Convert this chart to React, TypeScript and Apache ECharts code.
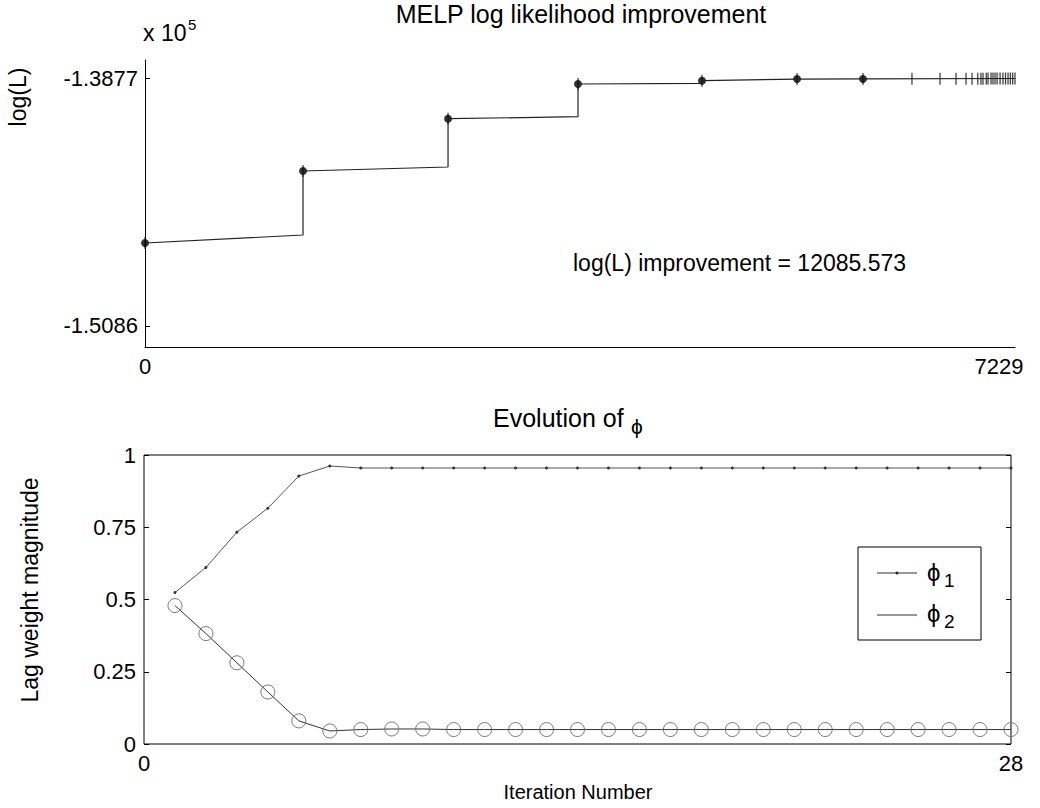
import React, { useEffect, useRef } from "react";
import * as echarts from "echarts";

// ---- Top plot data (log likelihood vs. evaluation count) ----
const topXMax = 7229;
const topXLabels = ["0", "7229"];
const topYTicks = [-150860, -138770];
const stepX = [0, 1313, 2518, 3598, 4628, 5418, 5966];
const stepStartLogL = [-146814, -143304, -140754, -139062, -138902, -138819, -138816];
const stepEndLogL = [-146424, -143109, -140657, -139030, -138825, -138817];
const finalLogL = -138794;
const plusX = [6373, 6606, 6739, 6822, 6872, 6920, 6946, 6963, 6990, 7005, 7030, 7046, 7063, 7080, 7105, 7129, 7150, 7171, 7190, 7210, 7229];
const plusLogL = [-138810, -138808, -138806, -138805, -138804, -138803, -138802, -138802, -138801, -138800, -138799, -138799, -138798, -138798, -138797, -138796, -138796, -138795, -138795, -138794, -138794];

// ---- Bottom plot data (lag weights per iteration) ----
const iterations = [1, 2, 3, 4, 5, 6, 7, 8, 9, 10, 11, 12, 13, 14, 15, 16, 17, 18, 19, 20, 21, 22, 23, 24, 25, 26, 27, 28];
const phi1 = [0.524, 0.611, 0.733, 0.816, 0.927, 0.962, 0.955, 0.955, 0.955, 0.955, 0.955, 0.955, 0.955, 0.955, 0.955, 0.955, 0.955, 0.955, 0.955, 0.955, 0.955, 0.955, 0.955, 0.955, 0.955, 0.955, 0.955, 0.955];
const phi2 = [0.479, 0.382, 0.281, 0.18, 0.08, 0.045, 0.05, 0.052, 0.052, 0.05, 0.05, 0.05, 0.05, 0.05, 0.05, 0.05, 0.05, 0.05, 0.05, 0.05, 0.05, 0.05, 0.05, 0.05, 0.05, 0.05, 0.05, 0.05];

const FONT = "'Liberation Sans', Arial, sans-serif";
const TICK = 22;
const LAB = 23;
const TITLE = 25;

function buildOption() {
  const linePts: number[][] = [];
  for (let i = 0; i < stepX.length; i++) {
    linePts.push([stepX[i], stepStartLogL[i]]);
    if (i < stepX.length - 1) linePts.push([stepX[i + 1], stepEndLogL[i]]);
  }
  linePts.push([topXMax, finalLogL]);
  const dots = stepX.map((x, i) => [x, stepStartLogL[i]]);
  const plus = dots.concat(plusX.map((x, i) => [x, plusLogL[i]]));

  const txt = (text: string, x: number, y: number, size = LAB, extra: any = {}) => ({
    type: "text",
    x,
    y,
    ...extra,
    style: {
      text,
      fontFamily: FONT,
      fontSize: size,
      fill: "#000",
      align: extra.align || "center",
      verticalAlign: "middle",
    },
  });

  return {
    animation: false,
    backgroundColor: "#fff",
    grid: [
      { left: 145, top: 60, width: 870, height: 287, show: false },
      { left: 144, top: 455, width: 867, height: 289, show: true, borderColor: "#000", borderWidth: 1, backgroundColor: "transparent" },
    ],
    xAxis: [
      {
        type: "value", gridIndex: 0, min: 0, max: topXMax,
        axisLine: { show: true, onZero: false, lineStyle: { color: "#000", width: 1 } },
        axisTick: { show: false },
        splitLine: { show: false },
        axisLabel: { customValues: [0], formatter: () => topXLabels[0], color: "#000", fontSize: TICK, fontFamily: FONT, margin: 8 },
      },
      {
        type: "value", gridIndex: 1, min: 0, max: 28,
        axisLine: { show: false },
        axisTick: { show: false },
        splitLine: { show: false },
        axisLabel: { customValues: [0, 28], color: "#000", fontSize: TICK, fontFamily: FONT, margin: 8 },
      },
    ],
    yAxis: [
      {
        type: "value", gridIndex: 0, min: -151884, max: -137892,
        axisLine: { show: true, onZero: false, lineStyle: { color: "#000", width: 1 } },
        axisTick: { show: true, inside: true, length: 5, customValues: topYTicks, lineStyle: { color: "#000" } },
        splitLine: { show: false },
        axisLabel: { customValues: topYTicks, formatter: (v: number) => (v / 1e5).toFixed(4), color: "#000", fontSize: TICK, fontFamily: FONT, margin: 7 },
      },
      {
        type: "value", gridIndex: 1, min: 0, max: 1, interval: 0.25,
        axisLine: { show: false },
        axisTick: { show: true, inside: true, length: 5, lineStyle: { color: "#000" } },
        splitLine: { show: false },
        axisLabel: { color: "#000", fontSize: TICK, fontFamily: FONT, margin: 8 },
      },
      {
        type: "value", gridIndex: 1, min: 0, max: 1, interval: 0.25, position: "right",
        axisLine: { show: false },
        axisTick: { show: true, inside: true, length: 5, lineStyle: { color: "#000" } },
        splitLine: { show: false },
        axisLabel: { show: false },
      },
    ],
    series: [
      {
        type: "line", xAxisIndex: 0, yAxisIndex: 0, data: linePts, showSymbol: false,
        lineStyle: { color: "#222", width: 1.2 },
      },
      {
        type: "scatter", xAxisIndex: 0, yAxisIndex: 0, data: dots,
        symbol: "circle", symbolSize: 8, itemStyle: { color: "#000" },
      },
      {
        type: "scatter", xAxisIndex: 0, yAxisIndex: 0, data: plus,
        symbol: "rect", symbolSize: [1.2, 12], itemStyle: { color: "#000" },
      },
      {
        type: "line", xAxisIndex: 1, yAxisIndex: 1, data: iterations.map((x, i) => [x, phi1[i]]),
        symbol: "circle", symbolSize: 3, showAllSymbol: true,
        lineStyle: { color: "#555", width: 1 }, itemStyle: { color: "#333" },
      },
      {
        type: "line", xAxisIndex: 1, yAxisIndex: 1, data: iterations.map((x, i) => [x, phi2[i]]),
        symbol: "circle", symbolSize: 14, showAllSymbol: true,
        lineStyle: { color: "#333", width: 1 },
        itemStyle: { color: "rgba(0,0,0,0)", borderColor: "#777", borderWidth: 1 },
      },
    ],
    graphic: [
      txt("MELP log likelihood improvement", 581, 14, TITLE),
      txt("x 10", 143, 33, LAB, { align: "left" }),
      txt("5", 188, 24, 15, { align: "left" }),
      txt("log(L)", 18, 97, LAB, { rotation: Math.PI / 2 }),
      txt("log(L) improvement = 12085.573", 573, 263, LAB, { align: "left" }),
      txt(topXLabels[1], 999, 366, TICK),
      txt("Evolution of ", 493, 418, TITLE, { align: "left" }),
      txt("ϕ", 631, 426, 21, { align: "left" }),
      txt("Lag weight magnitude", 30, 590, LAB, { rotation: Math.PI / 2 }),
      txt("Iteration Number", 578, 792, 20),
      {
        type: "rect",
        shape: { x: 858, y: 547, width: 123, height: 93 },
        style: { fill: "#fff", stroke: "#000", lineWidth: 1 },
      },
      { type: "line", shape: { x1: 877, y1: 573, x2: 917, y2: 573 }, style: { stroke: "#333", lineWidth: 1 } },
      { type: "circle", shape: { cx: 897, cy: 573, r: 1.5 }, style: { fill: "#222" } },
      txt("ϕ", 927, 572, 24, { align: "left" }),
      txt("1", 944, 580, 19, { align: "left" }),
      { type: "line", shape: { x1: 877, y1: 615, x2: 917, y2: 615 }, style: { stroke: "#333", lineWidth: 1 } },
      txt("ϕ", 927, 613, 24, { align: "left" }),
      txt("2", 944, 621, 19, { align: "left" }),
    ],
  };
}

export default function App() {
  const ref = useRef<HTMLDivElement>(null);
  useEffect(() => {
    const chart = echarts.init(ref.current!, null, { renderer: "svg" });
    chart.setOption(buildOption() as any);
    return () => chart.dispose();
  }, []);
  return (
    <div
      ref={ref}
      style={{ position: "fixed", left: 0, top: 0, width: 1040, height: 808, background: "#fff" }}
    />
  );
}
